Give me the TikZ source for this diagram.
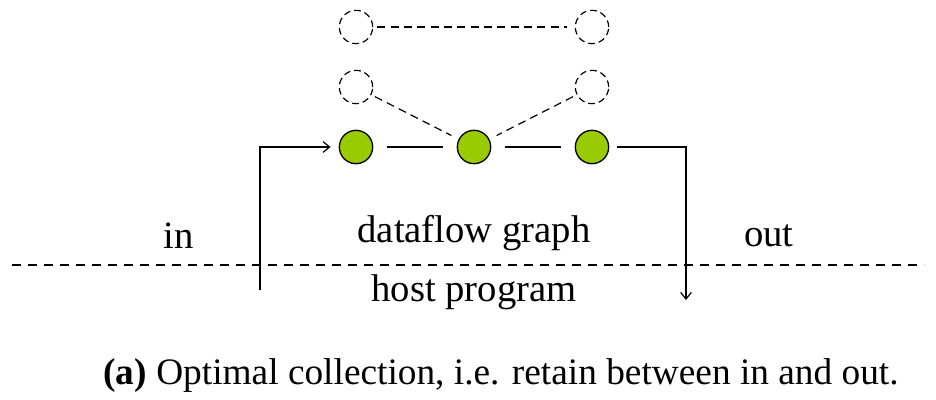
\documentclass[tikz,border=0pt]{standalone}
\usepackage{fontspec}
\setmainfont{Liberation Serif}
\usetikzlibrary{arrows.meta}
\definecolor{lgreen}{HTML}{99CC00}
\begin{document}
\begin{tikzpicture}[x=0.75pt,y=-0.75pt,
  op/.style={circle,draw,line width=1pt,fill=lgreen,minimum size=25pt,inner sep=0pt},
  ghost/.style={circle,draw,dash pattern=on 5pt off 3pt,line width=0.9pt,minimum size=25pt,inner sep=0pt},
  lbl/.style={font=\fontsize{29}{34}\selectfont,inner sep=0pt},
  con/.style={line width=0.9pt,shorten >=10pt,shorten <=10pt},
  dcon/.style={line width=0.9pt,dash pattern=on 6pt off 4pt,shorten >=6pt,shorten <=3pt},
  arr/.style={line width=0.9pt,-{Straight Barb[length=5pt,width=8pt]}}]
\useasboundingbox (0,0) rectangle (936,400);
\node[op] (a) at (356,147) {};
\node[op] (b) at (474,147) {};
\node[op] (c) at (592,147) {};
\node[ghost] (ga) at (356,87) {};
\node[ghost] (gc) at (592,87) {};
\node[ghost] (ta) at (356,27) {};
\node[ghost] (tc) at (592,27) {};
\draw[con] (a) -- (b);
\draw[con] (b) -- (c);
\draw[dcon] (ta) -- (tc);
\draw[dcon] (ga) -- (b);
\draw[dcon] (gc) -- (b);
\coordinate (inS) at (260,290);
\coordinate (outE) at (686,300);
\draw[arr] (inS) |- ([xshift=-6pt]a.west);
\draw[arr] ([xshift=6pt]c.east) -| (outE);
\coordinate (dl) at (12,265);
\coordinate (dr) at (924,265);
\draw[line width=0.9pt,dash pattern=on 7pt off 5pt] (dl) -- (dr);
\node[lbl] (tin) at (179,236) {in};
\node[lbl] (tdf) at (474,233) {dataflow graph};
\node[lbl] (tout) at (769,236) {out};
\node[lbl] (thp) at (474,292) {host program};
\node[lbl,font=\fontsize{28}{32}\selectfont] (cap) at (501,376) {\textbf{(a)} Optimal collection, i.e. retain between in and out.};
\end{tikzpicture}
\end{document}
